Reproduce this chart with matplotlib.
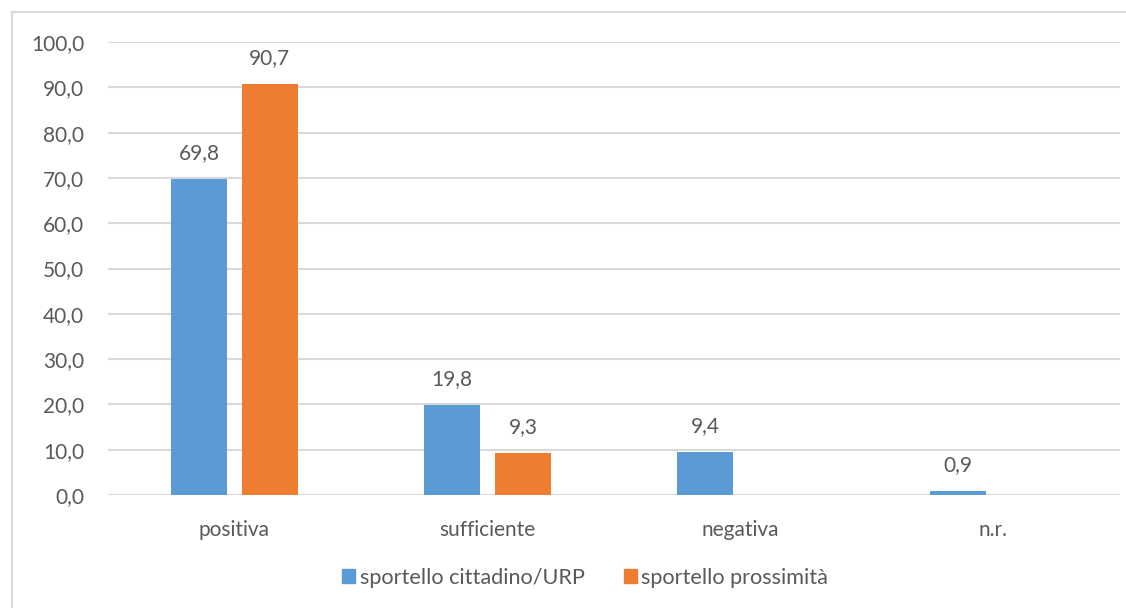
import matplotlib.pyplot as plt
import numpy as np
from matplotlib.lines import Line2D
from matplotlib.patches import Rectangle
from matplotlib.ticker import FuncFormatter

plt.rcParams['font.family'] = ['Lato', 'DejaVu Sans']

categories = ['positiva', 'sufficiente', 'negativa', 'n.r.']
urp = [69.8, 19.8, 9.4, 0.9]
prossimita = [90.7, 9.3, None, None]
series_names = ['sportello cittadino/URP', 'sportello prossimità']

blue = '#5B9BD5'
orange = '#ED7D31'
text_col = '#595959'
grid_col = '#D9D9D9'
fs = 15

fig = plt.figure(figsize=(11.26, 6.08), dpi=100)
W, H = 1126, 608
ax = fig.add_axes([108 / W, 1 - 495 / H, (1120 - 108) / W, (495 - 42) / H])

# chart border (top and left only, the rest is cut off)
fig.add_artist(Line2D([12 / W, 1.0], [1 - 12 / H, 1 - 12 / H], transform=fig.transFigure,
                      color=grid_col, linewidth=1.5))
fig.add_artist(Line2D([12 / W, 12 / W], [0, 1 - 12 / H], transform=fig.transFigure,
                      color=grid_col, linewidth=1.5))

x = np.arange(len(categories))
w = 0.22
off = 0.14

for i, v in enumerate(urp):
    ax.bar(x[i] - off, v, w, color=blue, zorder=3)
    ax.text(x[i] - off, v + 3.5, f'{v:.1f}'.replace('.', ','), ha='center', va='bottom',
            fontsize=fs, color=text_col)
for i, v in enumerate(prossimita):
    if v is None:
        continue
    ax.bar(x[i] + off, v, w, color=orange, zorder=3)
    ax.text(x[i] + off, v + 3.5, f'{v:.1f}'.replace('.', ','), ha='center', va='bottom',
            fontsize=fs, color=text_col)

ax.set_xlim(-0.5, 3.5)
ax.set_ylim(0, 100)
ax.set_yticks(np.arange(0, 101, 10))
ax.yaxis.set_major_formatter(FuncFormatter(lambda v, p: f'{v:.1f}'.replace('.', ',')))
ax.set_xticks(x)
ax.set_xticklabels(categories)
ax.tick_params(axis='both', length=0, labelsize=fs, labelcolor=text_col)
ax.tick_params(axis='x', pad=18)
ax.tick_params(axis='y', pad=17)
ax.grid(axis='y', color=grid_col, linewidth=1.5, zorder=0)
for s in ax.spines.values():
    s.set_visible(False)

handles = [Rectangle((0, 0), 1, 1, color=blue), Rectangle((0, 0), 1, 1, color=orange)]
fig.legend(handles, series_names, loc='center', bbox_to_anchor=(585 / W, 1 - 578 / H),
           ncol=2, frameon=False, fontsize=15.6, labelcolor=text_col,
           handlelength=0.6, handleheight=0.6, handletextpad=0.2, columnspacing=1.8)

fig.savefig('out.png', dpi=100)
